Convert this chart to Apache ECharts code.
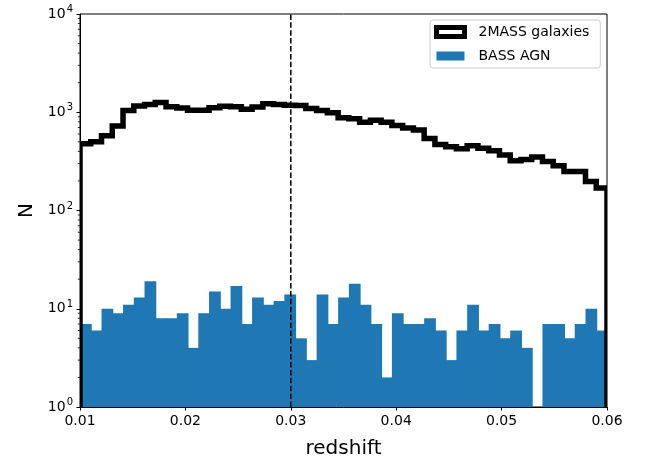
<!DOCTYPE html>
<html>
<head>
<meta charset="utf-8">
<script src="https://cdn.jsdelivr.net/npm/echarts@6/dist/echarts.min.js"></script>
<style>
  html, body { margin: 0; padding: 0; background: #fff; }
  #chart { width: 648px; height: 459px; }
</style>
</head>
<body>
<div id="chart"></div>
<script>
// 49 equal redshift bins between 0.01 and 0.06
const binStart = 0.01;
const binEnd = 0.06;
const massCounts = [
  477, 500, 578, 726, 1040, 1160, 1200, 1255, 1140, 1107,
  1045, 1045, 1112, 1154, 1135, 1070, 1132, 1224, 1202, 1180,
  1170, 1090, 1043, 990, 877, 860, 790, 830, 790, 735,
  690, 660, 540, 470, 445, 426, 455, 430, 405, 368,
  320, 330, 350, 315, 285, 249, 249, 197, 169
];
const bassCounts = [
  7, 6, 10, 9, 11, 13, 19, 8, 8, 9,
  4, 9, 15, 10, 17, 7, 13, 11, 12, 14,
  5, 3, 14, 7, 13, 18, 11, 7, 2, 9,
  7, 7, 8, 6, 3, 6, 11, 6, 7, 5,
  6, 4, 0, 7, 7, 5, 7, 10, 6
];
const cutZ = 0.03;
const xTicks = ['0.01', '0.02', '0.03', '0.04', '0.05', '0.06'];
const yMinorTicks = [
  2, 3, 4, 5, 6, 7, 8, 9,
  20, 30, 40, 50, 60, 70, 80, 90,
  200, 300, 400, 500, 600, 700, 800, 900,
  2000, 3000, 4000, 5000, 6000, 7000, 8000, 9000
];

const nBins = bassCounts.length;
const binW = (binEnd - binStart) / nBins;
const edge = (i) => binStart + i * binW;

const font = 'DejaVu Sans';
const chart = echarts.init(document.getElementById('chart'));

// step outline points for the 2MASS histogram
const stepData = [[binStart, 1]];
massCounts.forEach((c, i) => {
  stepData.push([edge(i), c]);
  stepData.push([edge(i + 1), c]);
});
stepData.push([binEnd, 1]);

chart.setOption({
  animation: false,
  textStyle: { fontFamily: font },
  grid: {
    left: 80, right: 41, top: 14, bottom: 52,
    show: true, borderColor: '#000', borderWidth: 1,
    containLabel: false, outerBoundsMode: 'none'
  },
  legend: {
    left: 430, top: 20,
    orient: 'vertical',
    itemWidth: 28, itemHeight: 9, itemGap: 10,
    padding: [5, 11, 5, 4],
    borderColor: '#cccccc', borderWidth: 1, borderRadius: 3,
    backgroundColor: '#fff',
    textStyle: { fontSize: 14, color: '#000', fontFamily: font, padding: [0, 0, 0, 9] },
    data: [
      { name: '2MASS galaxies', icon: 'rect', itemStyle: { color: '#fff', borderColor: '#000', borderWidth: 5 } },
      { name: 'BASS AGN', icon: 'rect', itemStyle: { color: '#1f77b4', borderWidth: 0 } }
    ]
  },
  xAxis: {
    type: 'value',
    min: binStart, max: binEnd, interval: 0.01,
    name: 'redshift', nameLocation: 'middle', nameGap: 32,
    nameTextStyle: { fontSize: 20, color: '#000', fontFamily: font },
    axisLine: { show: true, lineStyle: { color: '#000', width: 1 } },
    axisTick: { show: true, inside: false, length: 3.5, lineStyle: { color: '#000' } },
    axisLabel: {
      color: '#000', fontSize: 14, margin: 7, fontFamily: font,
      formatter: (v) => xTicks[Math.round((v - binStart) / 0.01)]
    },
    splitLine: { show: false }
  },
  yAxis: {
    type: 'log', logBase: 10,
    min: 1, max: 10000,
    name: 'N', nameLocation: 'middle', nameGap: 43, nameRotate: 90,
    nameTextStyle: { fontSize: 20, color: '#000', fontFamily: font },
    axisLine: { show: true, lineStyle: { color: '#000', width: 1 } },
    axisTick: { show: true, inside: false, length: 3.5, lineStyle: { color: '#000' } },
    axisLabel: {
      color: '#000', margin: 7, fontFamily: font,
      formatter: (v) => '{b|10}{s|' + Math.round(Math.log10(v)) + '}',
      rich: {
        b: { fontSize: 14, color: '#000', fontFamily: font },
        s: { fontSize: 10, color: '#000', fontFamily: font, padding: [0, 0, 9, 1] }
      }
    },
    splitLine: { show: false }
  },
  series: [
    {
      name: 'BASS AGN',
      type: 'custom',
      z: 2,
      clip: true,
      encode: { x: [0, 1], y: 2 },
      data: bassCounts.map((c, i) => [edge(i), edge(i + 1), c]),
      itemStyle: { color: '#1f77b4' },
      renderItem: (params, api) => {
        const v = api.value(2);
        if (!v) return null;
        const p0 = api.coord([api.value(0), 1]);
        const p1 = api.coord([api.value(1), v]);
        // widen by a pixel so neighbouring bars butt together without seams
        return {
          type: 'rect',
          shape: { x: p0[0], y: p1[1], width: p1[0] - p0[0] + 1, height: p0[1] - p1[1] },
          style: { fill: '#1f77b4' }
        };
      }
    },
    {
      name: '2MASS galaxies',
      type: 'custom',
      z: 3,
      clip: true,
      encode: { x: 0, y: 1 },
      data: [[binStart, massCounts[0]]],
      itemStyle: { color: '#000' },
      renderItem: (params, api) => {
        const pts = stepData.map((d) => api.coord(d));
        return {
          type: 'polyline',
          shape: { points: pts },
          style: { stroke: '#000', fill: null, lineWidth: 5.5, lineJoin: 'miter', lineCap: 'butt' }
        };
      }
    },
    {
      // dashed marker at z = 0.03
      type: 'custom',
      z: 4,
      silent: true,
      encode: { x: 0, y: 1 },
      data: [[cutZ, 1]],
      renderItem: (params, api) => {
        const a = api.coord([api.value(0), 1]);
        const b = api.coord([api.value(0), 10000]);
        return {
          type: 'line',
          shape: { x1: a[0], y1: a[1], x2: b[0], y2: b[1] },
          style: { stroke: '#000', lineWidth: 1.5, lineDash: [5.5, 2.4] }
        };
      }
    },
    {
      // matplotlib-style minor ticks on the log axis
      type: 'custom',
      z: 5,
      silent: true,
      clip: false,
      encode: { x: 0, y: 1 },
      data: yMinorTicks.map((v) => [binStart, v]),
      renderItem: (params, api) => {
        const p = api.coord([api.value(0), api.value(1)]);
        return {
          type: 'line',
          shape: { x1: p[0] - 2.2, y1: p[1], x2: p[0], y2: p[1] },
          style: { stroke: '#000', lineWidth: 0.8 }
        };
      }
    }
  ]
});
</script>
</body>
</html>
